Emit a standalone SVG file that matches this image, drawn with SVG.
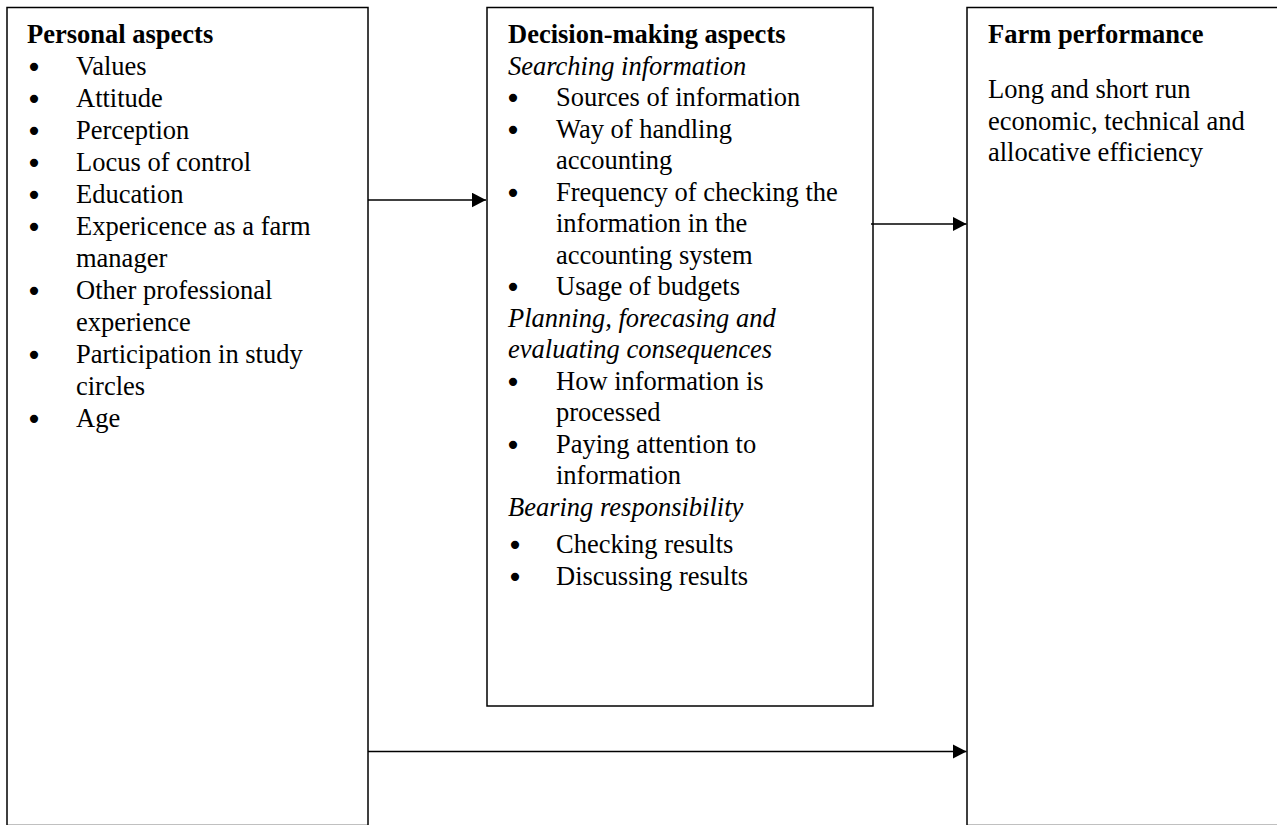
<svg xmlns="http://www.w3.org/2000/svg" width="1277" height="825" viewBox="0 0 1277 825">
<style>
  .box { fill: #fff; stroke: #000; stroke-width: 1.5; }
  .t { font-family: "Liberation Serif", "Times New Roman", serif; font-size: 26.5px; fill: #000; }
  .b { font-weight: bold; }
  .i { font-style: italic; }
  .bul { font-family: "DejaVu Sans", sans-serif; font-size: 28px; fill: #000; text-anchor: middle; }
  .conn { stroke: #000; stroke-width: 1.5; fill: none; }
</style>
<defs>
  <marker id="arr" markerUnits="userSpaceOnUse" markerWidth="15" markerHeight="15" refX="14" refY="7.3" orient="auto">
    <path d="M0,0 L14,7.3 L0,14.6 z" fill="#000"/>
  </marker>
</defs>
<rect width="1277" height="825" fill="#fff"/>

<g id="personal">
  <rect class="box" x="7" y="7.5" width="361" height="818"/>
  <text class="t b" x="27" y="43">Personal aspects</text>
  <g class="bul">
    <text x="34" y="77">•</text>
    <text x="34" y="109">•</text>
    <text x="34" y="141">•</text>
    <text x="34" y="173">•</text>
    <text x="34" y="205">•</text>
    <text x="34" y="237">•</text>
    <text x="34" y="301">•</text>
    <text x="34" y="365">•</text>
    <text x="34" y="429">•</text>
  </g>
  <text class="t" x="76" y="75">Values</text>
  <text class="t" x="76" y="107">Attitude</text>
  <text class="t" x="76" y="139">Perception</text>
  <text class="t" x="76" y="171">Locus of control</text>
  <text class="t" x="76" y="203">Education</text>
  <text class="t" x="76" y="235">Expericence as a farm</text>
  <text class="t" x="76" y="267">manager</text>
  <text class="t" x="76" y="299">Other professional</text>
  <text class="t" x="76" y="331">experience</text>
  <text class="t" x="76" y="363">Participation in study</text>
  <text class="t" x="76" y="395">circles</text>
  <text class="t" x="76" y="427">Age</text>
</g>

<g id="decision">
  <rect class="box" x="487" y="7.5" width="386" height="698.5"/>
  <text class="t b" x="508" y="43">Decision-making aspects</text>
  <text class="t i" x="508" y="74.5">Searching information</text>
  <g class="bul">
    <text x="513" y="108">•</text>
    <text x="513" y="139.5">•</text>
    <text x="513" y="202.5">•</text>
    <text x="513" y="297">•</text>
    <text x="513" y="391.5">•</text>
    <text x="513" y="454.5">•</text>
    <text x="515" y="555">•</text>
    <text x="515" y="587">•</text>
  </g>
  <text class="t" x="556" y="106">Sources of information</text>
  <text class="t" x="556" y="137.5">Way of handling</text>
  <text class="t" x="556" y="169">accounting</text>
  <text class="t" x="556" y="200.5">Frequency of checking the</text>
  <text class="t" x="556" y="232">information in the</text>
  <text class="t" x="556" y="263.5">accounting system</text>
  <text class="t" x="556" y="295">Usage of budgets</text>
  <text class="t i" x="508" y="326.5">Planning, forecasing and</text>
  <text class="t i" x="508" y="358">evaluating consequences</text>
  <text class="t" x="556" y="389.5">How information is</text>
  <text class="t" x="556" y="421">processed</text>
  <text class="t" x="556" y="452.5">Paying attention to</text>
  <text class="t" x="556" y="484">information</text>
  <text class="t i" x="508" y="515.5">Bearing responsibility</text>
  <text class="t" x="556" y="553">Checking results</text>
  <text class="t" x="556" y="585">Discussing results</text>
</g>

<g id="farm">
  <rect class="box" x="967" y="7.5" width="320" height="818"/>
  <text class="t b" x="988" y="43">Farm performance</text>
  <text class="t" x="988" y="97.5">Long and short run</text>
  <text class="t" x="988" y="129.5">economic, technical and</text>
  <text class="t" x="988" y="161">allocative efficiency</text>
</g>

<g id="connectors">
  <line class="conn" x1="368" y1="200" x2="486" y2="200" marker-end="url(#arr)"/>
  <line class="conn" x1="871" y1="224" x2="966.5" y2="224" marker-end="url(#arr)"/>
  <line class="conn" x1="368" y1="751.5" x2="966.5" y2="751.5" marker-end="url(#arr)"/>
</g>
</svg>
